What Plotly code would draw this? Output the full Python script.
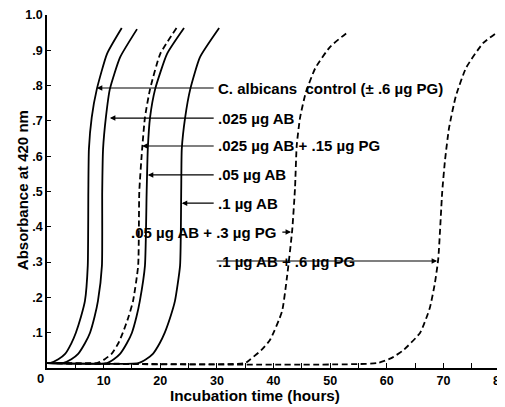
import plotly.graph_objects as go

# Curves (hours, absorbance at 420 nm)
c1_x = [0, 0.5, 2.0, 3.2, 4.3, 5.1, 6.0, 6.7, 7.2, 7.3, 7.4, 7.9, 8.8, 10.6, 13.2]
c1_y = [0.014, 0.014, 0.025, 0.04, 0.07, 0.10, 0.145, 0.19, 0.29, 0.50, 0.62, 0.71, 0.79, 0.89, 0.963]

c2_x = [0, 2.8, 4.3, 5.5, 6.7, 7.6, 8.4, 9.0, 9.7, 9.75, 9.9, 10.4, 11.1, 12.9, 15.9]
c2_y = [0.014, 0.014, 0.025, 0.04, 0.07, 0.10, 0.145, 0.19, 0.29, 0.50, 0.62, 0.71, 0.79, 0.88, 0.96]

c3_x = [0, 8.8, 10.2, 11.4, 12.6, 13.4, 14.4, 15.2, 16.1, 16.3, 16.8, 17.3, 18.2, 20.0, 23.0]
c3_y = [0.014, 0.014, 0.025, 0.04, 0.07, 0.10, 0.145, 0.19, 0.29, 0.50, 0.62, 0.71, 0.79, 0.89, 0.966]

c4_x = [0, 10.6, 11.8, 12.9, 14.1, 15.0, 15.8, 16.4, 17.3, 17.6, 17.8, 18.2, 19.1, 21.2, 24.2]
c4_y = [0.014, 0.014, 0.025, 0.04, 0.07, 0.10, 0.145, 0.19, 0.29, 0.50, 0.62, 0.71, 0.79, 0.89, 0.963]

c5_x = [0, 16.1, 17.5, 18.7, 19.9, 20.8, 21.8, 22.6, 23.5, 23.7, 23.8, 24.4, 25.3, 27.0, 30.4]
c5_y = [0.014, 0.014, 0.025, 0.04, 0.07, 0.10, 0.145, 0.19, 0.29, 0.50, 0.62, 0.71, 0.79, 0.88, 0.963]

c6_x = [0, 35.0, 35.8, 37.8, 39.4, 41.5, 42.4, 43.3, 43.8, 44.1, 44.7, 45.7, 47.4, 50.0, 53.0]
c6_y = [0.014, 0.014, 0.023, 0.05, 0.08, 0.16, 0.26, 0.39, 0.51, 0.63, 0.71, 0.78, 0.85, 0.91, 0.95]

c7_x = [0, 58.3, 60.8, 62.9, 65.9, 67.6, 68.5, 69.1, 69.8, 70.3, 71.0, 72.2, 74.0, 77.0, 80.3]
c7_y = [0.014, 0.014, 0.028, 0.05, 0.10, 0.17, 0.24, 0.31, 0.50, 0.59, 0.68, 0.77, 0.85, 0.92, 0.96]

labels = [
    "C. albicans  control (± .6 µg PG)",
    ".025 µg AB",
    ".025 µg AB + .15 µg PG",
    ".05 µg AB",
    ".1 µg AB",
    ".05 µg AB + .3 µg PG",
    ".1 µg AB + .6 µg PG",
]
label_y = [0.793, 0.708, 0.629, 0.547, 0.467, 0.385, 0.303]
arrow_tip_x = [8.8, 11.1, 16.8, 17.8, 23.8, 43.1, 68.9]

y_tickvals = [0.1, 0.2, 0.3, 0.4, 0.5, 0.6, 0.7, 0.8, 0.9, 1.0]
y_ticktext = [".1", ".2", ".3", ".4", ".5", ".6", ".7", ".8", ".9", "1.0"]
x_tickvals = [5, 10, 15, 20, 25, 30, 35, 40, 45, 50, 55, 60, 65, 70, 75, 80]
x_ticktext = ["", "10", "", "20", "", "30", "", "40", "", "50", "", "60", "", "70", "", "80"]

FONT = "Liberation Sans, Arial, sans-serif"
DASH = "6px,3.5px"

fig = go.Figure()
dashed = [(c3_x, c3_y), (c6_x, c6_y), (c7_x, c7_y)]
solid = [(c1_x, c1_y), (c2_x, c2_y), (c4_x, c4_y), (c5_x, c5_y)]
for xs, ys in dashed:
    fig.add_trace(go.Scatter(x=xs, y=ys, mode="lines",
                             line=dict(color="black", width=1.8, dash=DASH, shape="spline", smoothing=0.5),
                             showlegend=False, hoverinfo="skip"))
for xs, ys in solid:
    fig.add_trace(go.Scatter(x=xs, y=ys, mode="lines",
                             line=dict(color="black", width=1.8, shape="spline", smoothing=0.5),
                             showlegend=False, hoverinfo="skip"))

annotations = []
for i, (txt, yv, tip) in enumerate(zip(labels, label_y, arrow_tip_x)):
    if i == 5:
        text_x, anchor, tail = 40.9, "right", 41.3
    else:
        text_x, anchor, tail = 29.9, "left", 29.7
    annotations.append(dict(x=text_x, y=yv, xref="x", yref="y", text=txt, showarrow=False,
                            xanchor=anchor, yanchor="middle",
                            font=dict(family=FONT, size=15, color="black", weight="bold")))
    annotations.append(dict(x=tip, y=yv, ax=tail, ay=yv, xref="x", yref="y", axref="x", ayref="y",
                            text="", showarrow=True, arrowhead=2, arrowsize=1.0, arrowwidth=1.1,
                            arrowcolor="black", standoff=0, startstandoff=0))
annotations.append(dict(x=0, y=0, xref="x", yref="y", text="0", showarrow=False,
                        xanchor="right", yanchor="top", xshift=-1, yshift=-1,
                        font=dict(family=FONT, size=13, color="black", weight="bold")))
# axis titles
annotations.append(dict(x=0.459, y=-0.078, xref="paper", yref="paper", text="Incubation time (hours)",
                        showarrow=False, xanchor="center", yanchor="middle",
                        font=dict(family=FONT, size=15.3, color="black", weight="bold")))
annotations.append(dict(x=-0.055, y=0.504, xref="paper", yref="paper", text="Absorbance at 420 nm",
                        showarrow=False, xanchor="center", yanchor="middle", textangle=-90,
                        font=dict(family=FONT, size=15, color="black", weight="bold")))

# The page body adds an 8 px offset, so the figure is sized to the visible area.
fig.update_layout(
    width=497, height=399,
    margin=dict(l=39, r=5, t=7, b=39, autoexpand=False),
    paper_bgcolor="white", plot_bgcolor="white",
    annotations=annotations,
    font=dict(family=FONT, color="black", weight="bold"),
    xaxis=dict(range=[0, 80], showline=True, linecolor="black", linewidth=1.6,
               tickmode="array", tickvals=x_tickvals, ticktext=x_ticktext,
               ticks="inside", ticklen=5, tickwidth=1.3, tickcolor="black",
               tickfont=dict(family=FONT, size=12.5, color="black", weight="bold"),
               ticklabeloverflow="allow",
               showgrid=False, zeroline=False, automargin=False),
    yaxis=dict(range=[0, 1.0], showline=True, linecolor="black", linewidth=1.6,
               tickmode="array", tickvals=y_tickvals, ticktext=y_ticktext,
               ticks="inside", ticklen=4, tickwidth=1.3, tickcolor="black",
               tickfont=dict(family=FONT, size=12.5, color="black", weight="bold"),
               ticklabeloverflow="allow",
               showgrid=False, zeroline=False, automargin=False),
)

fig.write_html("out.html")
